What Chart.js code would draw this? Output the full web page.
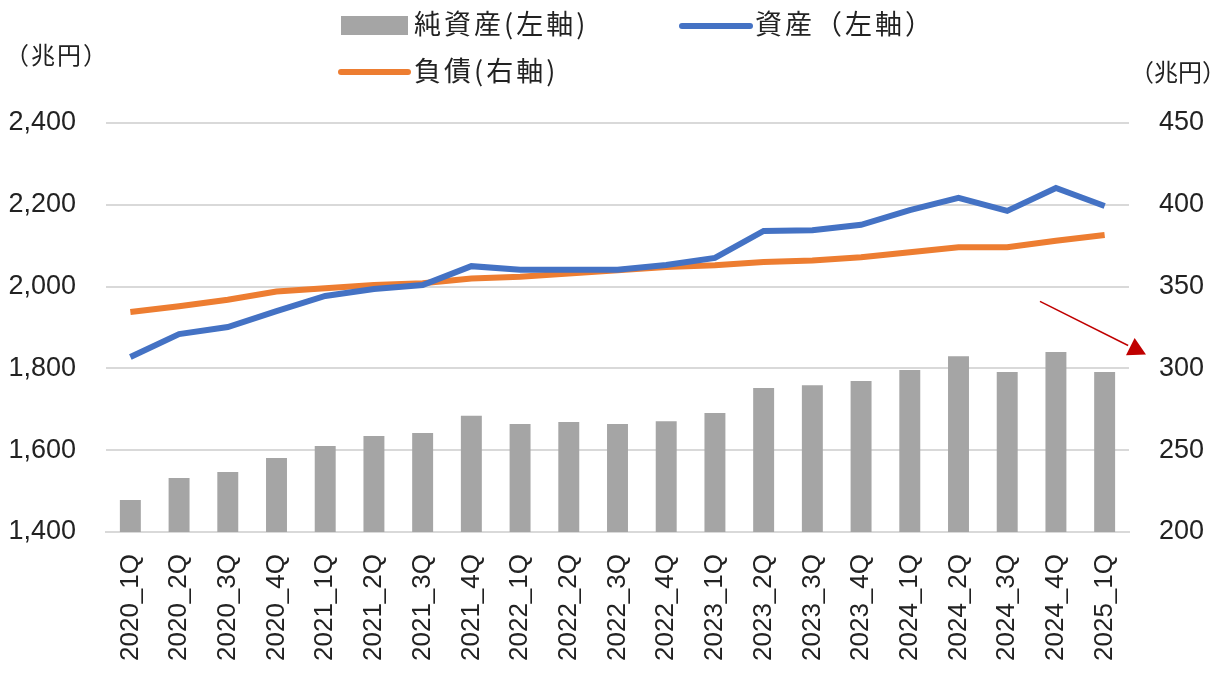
<!DOCTYPE html>
<html>
<head>
<meta charset="utf-8">
<script src="https://cdn.jsdelivr.net/npm/chart.js@4/dist/chart.umd.min.js"></script>
<style>
  html, body { margin: 0; padding: 0; background: #fff; }
  #wrap { width: 1220px; height: 674px; }
</style>
</head>
<body>
<div id="wrap"><canvas id="grafico" width="1220" height="674"></canvas></div>
<script>
// Datos
var quarters = ['2020_1Q', '2020_2Q', '2020_3Q', '2020_4Q', '2021_1Q', '2021_2Q', '2021_3Q', '2021_4Q',
    '2022_1Q', '2022_2Q', '2022_3Q', '2022_4Q', '2023_1Q', '2023_2Q', '2023_3Q', '2023_4Q',
    '2024_1Q', '2024_2Q', '2024_3Q', '2024_4Q', '2025_1Q'];
var netAssets = [1478, 1532, 1547, 1581, 1610, 1635, 1642, 1684, 1664, 1669, 1664, 1671, 1691,
    1752, 1759, 1769, 1796, 1830, 1791, 1840, 1791];
var assets = [1828, 1884, 1901, 1940, 1977, 1994, 2004, 2050, 2041, 2041, 2041, 2053, 2070,
    2136, 2138, 2151, 2187, 2217, 2185, 2241, 2197];
var liabilities = [334.5, 338, 342, 347, 349, 351, 352, 355, 356, 358, 360, 362, 363,
    365, 366, 368, 371, 374, 374, 378, 381.5];
var leftTicks = [1400, 1600, 1800, 2000, 2200, 2400];
var rightTicks = [200, 250, 300, 350, 400, 450];

var labelNet = '純資産(左軸)';
var labelAssets = '資産（左軸）';
var labelLiab = '負債(右軸)';
var unitText = '（兆円）';

var GRAY = '#A5A5A5', BLUE = '#4472C4', ORANGE = '#ED7D31', RED = '#C00000';
var numFont = '"Liberation Sans", Arial, sans-serif';
var jpFont = '"Noto Sans CJK JP", "Noto Sans", sans-serif';

// Leyenda y textos extra
var extrasPlugin = {
    id: 'extras',
    afterDraw: function(chart) {
        var ctx = chart.ctx;
        var area = chart.chartArea;
        var hasLS = ('letterSpacing' in ctx);
        ctx.save();
        ctx.textBaseline = 'middle';
        ctx.textAlign = 'left';
        ctx.font = '27px ' + jpFont;
        if (hasLS) ctx.letterSpacing = '3px';

        // leyenda
        ctx.fillStyle = GRAY;
        ctx.fillRect(341, 16, 67, 19);
        ctx.fillStyle = '#222';
        ctx.fillText(labelNet, 414, 24);

        ctx.lineCap = 'round';
        ctx.lineWidth = 6;
        ctx.strokeStyle = BLUE;
        ctx.beginPath(); ctx.moveTo(682, 26); ctx.lineTo(750, 26); ctx.stroke();
        ctx.fillText(labelAssets, 755, 24);

        ctx.strokeStyle = ORANGE;
        ctx.beginPath(); ctx.moveTo(341, 72); ctx.lineTo(408, 72); ctx.stroke();
        ctx.fillText(labelLiab, 414, 71);

        // unidades
        ctx.font = '24px ' + jpFont;
        if (hasLS) ctx.letterSpacing = '2px';
        ctx.fillText(unitText, 5, 55);
        if (hasLS) ctx.letterSpacing = '0px';
        ctx.fillText(unitText, 1130, 72);

        // flecha
        var yR = chart.scales.yRight;
        var x0 = area.right - 89, y0 = yR.getPixelForValue(341);
        var x1 = area.right + 17, y1 = yR.getPixelForValue(308.5);
        var ang = Math.atan2(y1 - y0, x1 - x0);
        var hl = 20;
        ctx.strokeStyle = RED;
        ctx.fillStyle = RED;
        ctx.lineWidth = 1.5;
        ctx.lineCap = 'butt';
        ctx.beginPath();
        ctx.moveTo(x0, y0);
        ctx.lineTo(x1 - hl * Math.cos(ang), y1 - hl * Math.sin(ang));
        ctx.stroke();
        ctx.beginPath();
        ctx.moveTo(x1, y1);
        ctx.lineTo(x1 - hl * Math.cos(ang - 0.5), y1 - hl * Math.sin(ang - 0.5));
        ctx.lineTo(x1 - hl * Math.cos(ang + 0.5), y1 - hl * Math.sin(ang + 0.5));
        ctx.closePath();
        ctx.fill();
        ctx.restore();
    }
};

var context = document.getElementById('grafico').getContext('2d');
var chart = new Chart(context, {
    type: 'bar',
    data: {
        labels: quarters,
        datasets: [{
            type: 'line',
            label: labelAssets,
            data: assets,
            borderColor: BLUE,
            borderWidth: 6,
            pointRadius: 0,
            tension: 0,
            yAxisID: 'y',
            order: 1
        }, {
            type: 'line',
            label: labelLiab,
            data: liabilities,
            borderColor: ORANGE,
            borderWidth: 6,
            pointRadius: 0,
            tension: 0,
            yAxisID: 'yRight',
            order: 2
        }, {
            type: 'bar',
            label: labelNet,
            data: netAssets,
            backgroundColor: GRAY,
            categoryPercentage: 1,
            barPercentage: 0.43,
            yAxisID: 'y',
            order: 3
        }]
    },
    options: {
        responsive: false,
        animation: false,
        layout: { padding: { top: 123, left: 0, right: 0, bottom: 0 } },
        plugins: {
            legend: { display: false },
            tooltip: { enabled: false }
        },
        scales: {
            x: {
                grid: { display: false },
                border: { display: true, color: '#D9D9D9', width: 2 },
                ticks: {
                    minRotation: 90,
                    maxRotation: 90,
                    autoSkip: false,
                    padding: 14,
                    color: '#222',
                    font: { family: numFont, size: 26 }
                },
                afterFit: function(s) { s.height = 142; }
            },
            y: {
                position: 'left',
                min: 1400,
                max: 2400,
                afterBuildTicks: function(s) { s.ticks = leftTicks.map(function(v) { return { value: v }; }); },
                grid: { color: '#D9D9D9', lineWidth: 2, drawTicks: false },
                border: { display: false },
                ticks: {
                    padding: 30,
                    color: '#222',
                    font: { family: numFont, size: 27 },
                    callback: function(v) { return v.toLocaleString('en-US'); }
                },
                afterFit: function(s) { s.width = 106; }
            },
            yRight: {
                position: 'right',
                min: 200,
                max: 450,
                afterBuildTicks: function(s) { s.ticks = rightTicks.map(function(v) { return { value: v }; }); },
                grid: { display: false, drawTicks: false },
                border: { display: false },
                ticks: {
                    padding: 30,
                    color: '#222',
                    font: { family: numFont, size: 27 }
                },
                afterFit: function(s) { s.width = 91; }
            }
        }
    },
    plugins: [extrasPlugin]
});
</script>
</body>
</html>
